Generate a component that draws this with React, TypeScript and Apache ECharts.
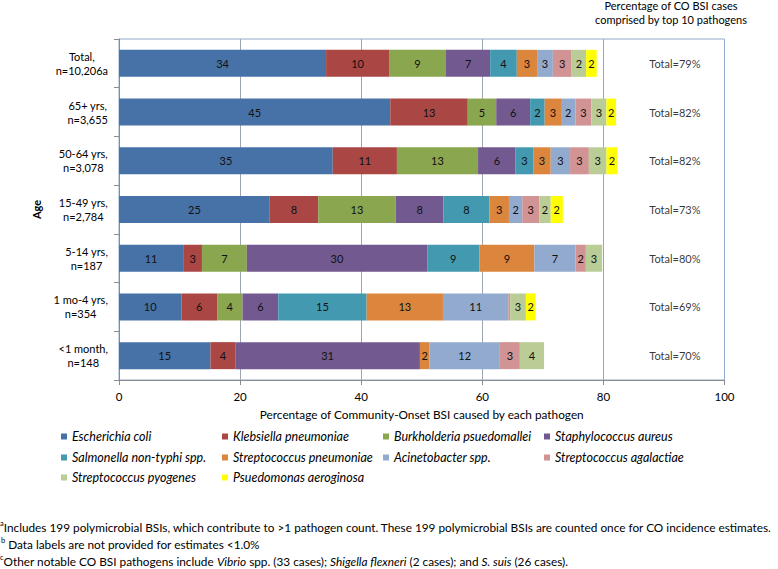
import React, { useEffect, useRef } from 'react';
import * as echarts from 'echarts';

const categories = [
  'Total,\nn=10,206a',
  '65+ yrs,\nn=3,655',
  '50-64 yrs,\nn=3,078',
  '15-49 yrs,\nn=2,784',
  '5-14 yrs,\nn=187',
  '1 mo-4 yrs,\nn=354',
  '<1 month,\nn=148',
];

const pathogens = [
  'Escherichia coli',
  'Klebsiella pneumoniae',
  'Burkholderia psuedomallei',
  'Staphylococcus aureus',
  'Salmonella non-typhi spp.',
  'Streptococcus pneumoniae',
  'Acinetobacter spp.',
  'Streptococcus agalactiae',
  'Streptococcus pyogenes',
  'Psuedomonas aeroginosa',
];

// values per pathogen, in category order (Total, 65+, 50-64, 15-49, 5-14, 1mo-4, <1 month)
const eColi = [34.2, 44.8, 35.3, 24.9, 10.6, 10.3, 15.1];
const kPneumoniae = [10.4, 12.8, 10.6, 8.0, 3.1, 5.9, 4.1];
const bPseudomallei = [9.4, 4.7, 13.4, 12.8, 7.4, 4.2, 0];
const sAureus = [7.3, 5.6, 6.2, 7.9, 29.8, 5.9, 30.5];
const salmonella = [4.4, 2.4, 2.9, 7.6, 8.6, 14.6, 0];
const sPneumoniae = [3.35, 2.7, 2.9, 3.2, 9.1, 12.6, 1.6];
const acinetobacter = [2.6, 2.4, 3.2, 2.2, 6.8, 10.8, 11.6];
const sAgalactiae = [3.1, 2.6, 3.1, 2.8, 1.7, 0.3, 3.3];
const sPyogenes = [2.4, 2.5, 2.9, 1.9, 2.7, 2.6, 4.0];
const pAeruginosa = [1.75, 1.6, 1.8, 2.0, 0, 1.6, 0];

const seriesValues = [
  eColi, kPneumoniae, bPseudomallei, sAureus, salmonella,
  sPneumoniae, acinetobacter, sAgalactiae, sPyogenes, pAeruginosa,
];

const totals = [79, 82, 82, 73, 80, 69, 70];

const colors = [
  '#4672A8', '#AA4744', '#8AA64F', '#725A90', '#4299B0',
  '#DB853D', '#93AACF', '#D19393', '#BACD97', '#FFFF00',
];

const FONT = 'Lato';

export default function App() {
  const ref = useRef<HTMLDivElement>(null);

  useEffect(() => {
    if (!ref.current) return;
    const chart = echarts.init(ref.current, undefined, { renderer: 'svg' });

    const colX = [61, 222, 383, 544];
    const rowY = [430, 451, 471];

    const legends = pathogens.map((name, i) => ({
      data: [name],
      left: colX[i % 4],
      top: rowY[Math.floor(i / 4)],
      padding: 0,
      icon: 'rect',
      itemWidth: 6,
      itemHeight: 6,
      selectedMode: false,
      textStyle: { fontFamily: FONT, fontSize: 12.5, fontStyle: 'italic', color: '#000' },
    }));

    const barSeries = pathogens.map((name, i) => ({
      name,
      type: 'bar',
      stack: 'all',
      barWidth: 27,
      data: seriesValues[i],
      itemStyle: { color: colors[i] },
      label: {
        show: true,
        position: 'inside',
        fontFamily: FONT,
        fontSize: 11,
        color: '#111',
        formatter: (p: any) => (p.value >= 1 ? String(Math.round(p.value)) : ''),
      },
    }));

    const FS = 11.8;
    const rich = {
      n: { fontFamily: FONT, fontSize: FS, lineHeight: 15, color: '#000' },
      i: { fontFamily: FONT, fontSize: FS, lineHeight: 15, color: '#000', fontStyle: 'italic' },
      sup: { fontFamily: FONT, fontSize: 7.5, lineHeight: 15, color: '#000', verticalAlign: 'top' },
    };

    chart.setOption({
      animation: false,
      backgroundColor: '#fff',
      textStyle: { fontFamily: FONT },
      grid: {
        left: 119,
        right: 53.5,
        top: 39,
        bottom: 189,
        show: true,
        borderColor: '#94A9CE',
        borderWidth: 1,
      },
      legend: legends,
      xAxis: {
        type: 'value',
        min: 0,
        max: 100,
        interval: 20,
        axisLine: { show: true, lineStyle: { color: '#8C8C8C' } },
        axisTick: { show: true, length: 5, lineStyle: { color: '#8C8C8C' } },
        axisLabel: { fontFamily: FONT, fontSize: 11.5, color: '#000', margin: 10 },
        splitLine: { show: true, showMinLine: false, showMaxLine: false, lineStyle: { color: '#9EA6B4' } },
        name: 'Percentage of Community-Onset BSI caused by each pathogen',
        nameLocation: 'middle',
        nameGap: 28,
        nameTextStyle: { fontFamily: FONT, fontSize: 11.8, color: '#000' },
      },
      yAxis: {
        type: 'category',
        data: categories,
        inverse: true,
        axisLine: { show: true, lineStyle: { color: '#8C8C8C' } },
        axisTick: { show: true, length: 5, lineStyle: { color: '#8C8C8C' } },
        axisLabel: {
          margin: 11,
          fontFamily: FONT,
          fontSize: 11,
          lineHeight: 14,
          color: '#000',
          formatter: (v: string) => v.split('\n').map((l) => `{c|${l}}`).join('\n'),
          rich: { c: { align: 'center', fontFamily: FONT, fontSize: 11, lineHeight: 14, color: '#000' } },
        },
        name: 'Age',
        nameLocation: 'middle',
        nameGap: 56,
        nameRotate: 90,
        nameTextStyle: { fontFamily: FONT, fontSize: 11, fontWeight: 'bold', color: '#000' },
      },
      series: [
        ...barSeries,
        {
          type: 'scatter',
          symbolSize: 1,
          itemStyle: { color: 'rgba(0,0,0,0)' },
          silent: true,
          data: totals.map((t, i) => [91.8, i, t]),
          label: {
            show: true,
            position: 'inside',
            fontFamily: FONT,
            fontSize: 11,
            color: '#000',
            formatter: (p: any) => `Total=${p.data[2]}%`,
          },
        },
      ],
      graphic: [
        {
          type: 'text',
          x: 671,
          y: 12,
          style: {
            text: 'Percentage of CO BSI cases\ncomprised by top 10 pathogens',
            align: 'center',
            verticalAlign: 'middle',
            fontFamily: FONT,
            fontSize: 11,
            lineHeight: 14,
            fill: '#000',
          },
        },
        {
          type: 'text',
          x: 0,
          y: 527,
          style: {
            text: '{sup|a}{n|Includes 199 polymicrobial BSIs, which contribute to >1 pathogen count. These 199 polymicrobial BSIs are counted once for CO incidence estimates.}',
            rich,
            verticalAlign: 'middle',
          },
        },
        {
          type: 'text',
          x: 1,
          y: 544,
          style: {
            text: '{sup|b}{n| Data labels are not provided for estimates <1.0%}',
            rich,
            verticalAlign: 'middle',
          },
        },
        {
          type: 'text',
          x: 0,
          y: 561,
          style: {
            text: '{sup|c}{n|Other notable CO BSI pathogens include }{i|Vibrio}{n| spp. (33 cases); }{i|Shigella flexneri}{n| (2 cases); and }{i|S. suis}{n| (26 cases).}',
            rich,
            verticalAlign: 'middle',
          },
        },
      ],
    });

    return () => chart.dispose();
  }, []);

  return (
    <div
      ref={ref}
      style={{ position: 'fixed', left: 0, top: 0, width: 778, height: 569, background: '#fff' }}
    />
  );
}
